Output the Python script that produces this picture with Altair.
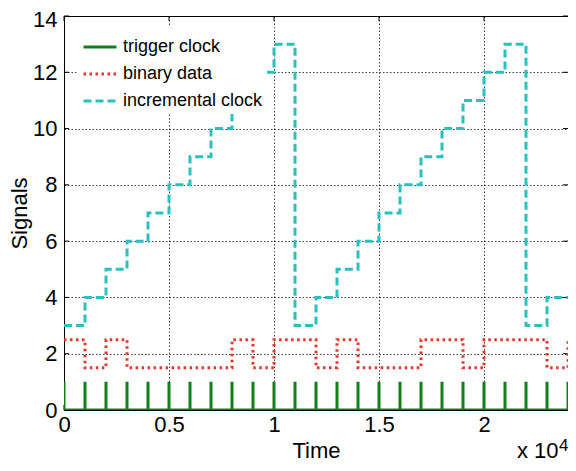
import altair as alt
import pandas as pd

# ---- data ----
sample_times = [0, 1000, 2000, 3000, 4000, 5000, 6000, 7000, 8000, 9000, 10000,
                11000, 12000, 13000, 14000, 15000, 16000, 17000, 18000, 19000,
                20000, 21000, 22000, 23000, 24000]
trigger_high = [1] * 25
binary_data = [2.5, 1.5, 2.5, 1.5, 1.5, 1.5, 1.5, 1.5, 2.5, 1.5, 2.5, 2.5, 1.5,
               2.5, 1.5, 1.5, 1.5, 2.5, 2.5, 1.5, 2.5, 2.5, 2.5, 1.5, 2.5]
incremental_clock = [3, 4, 5, 6, 7, 8, 9, 10, 11, 12, 13, 3, 4, 5, 6, 7, 8, 9,
                     10, 11, 12, 13, 3, 4, 4]
series_names = ["trigger clock", "binary data", "incremental clock"]
series_colors = ["#12801a", "#e8352b", "#2bbfc0"]
series_dashes = [[1, 0], [2.5, 3.5], [8, 4]]
x_ticks = [0, 5000, 10000, 15000, 20000]
y_ticks = [0, 2, 4, 6, 8, 10, 12, 14]

W, H = 504, 394
FONT = "Liberation Sans"

rows = []
idx = 0
for t, hi in zip(sample_times, trigger_high):
    rows.append({"t": t, "v": hi, "s": series_names[0], "o": idx}); idx += 1
    rows.append({"t": t, "v": 0, "s": series_names[0], "o": idx}); idx += 1
for t, v in zip(sample_times, binary_data):
    rows.append({"t": t, "v": v, "s": series_names[1], "o": idx}); idx += 1
for t, v in zip(sample_times, incremental_clock):
    rows.append({"t": t, "v": v, "s": series_names[2], "o": idx}); idx += 1
df = pd.DataFrame(rows)

xs = alt.Scale(domain=[0, 24000], nice=False, zero=False)
ys = alt.Scale(domain=[0, 14], nice=False)

lines = alt.Chart(df).mark_line(interpolate="step-after", strokeWidth=3,
                                strokeCap="butt", clip=True).encode(
    x=alt.X("t:Q", scale=xs, title="Time",
            axis=alt.Axis(values=x_ticks, labelExpr="toString(datum.value / 10000)",
                          grid=True, ticks=False, domain=False, labelPadding=4,
                          titlePadding=5, labelFlush=False)),
    y=alt.Y("v:Q", scale=ys, title="Signals",
            axis=alt.Axis(values=y_ticks, grid=True, ticks=False, domain=False,
                          labelPadding=7, titlePadding=1,
                          labelOffset={"condition": {"test": "datum.value == 14", "value": 3},
                                       "value": 0})),
    color=alt.Color("s:N", scale=alt.Scale(domain=series_names, range=series_colors),
                    legend=alt.Legend(title=None, orient="none", legendX=14, legendY=9,
                                      fillColor="white", padding=4, symbolType="stroke",
                                      symbolSize=1089, symbolStrokeWidth=3,
                                      labelFontSize=18, labelFont=FONT, labelColor="black",
                                      labelOffset=5, rowPadding=-3, labelLimit=300)),
    strokeDash=alt.StrokeDash("s:N", scale=alt.Scale(domain=series_names, range=series_dashes),
                              legend=None),
    order=alt.Order("o:Q"),
)

xt = pd.DataFrame({"t": x_ticks})
yt = pd.DataFrame({"v": y_ticks})
tick_b = alt.Chart(xt).mark_rule(color="black").encode(
    x=alt.X("t:Q", scale=xs), y=alt.value(H), y2=alt.value(H - 5))
tick_t = alt.Chart(xt).mark_rule(color="black").encode(
    x=alt.X("t:Q", scale=xs), y=alt.value(0), y2=alt.value(5))
tick_l = alt.Chart(yt).mark_rule(color="black").encode(
    y=alt.Y("v:Q", scale=ys), x=alt.value(0), x2=alt.value(5))
tick_r = alt.Chart(yt).mark_rule(color="black").encode(
    y=alt.Y("v:Q", scale=ys), x=alt.value(W - 5), x2=alt.value(W))

exp_txt = alt.Chart(pd.DataFrame({"a": [0]})).mark_text(
    align="left", baseline="alphabetic", fontSize=22, font=FONT, color="black").encode(
    x=alt.value(W - 51), y=alt.value(H + 48), text=alt.value("x 10"))
exp_sup = alt.Chart(pd.DataFrame({"a": [0]})).mark_text(
    align="left", baseline="alphabetic", fontSize=17, font=FONT, color="black").encode(
    x=alt.value(W - 9), y=alt.value(H + 41), text=alt.value("4"))

chart = alt.layer(tick_b, tick_t, tick_l, tick_r, lines, exp_txt, exp_sup).properties(
    width=W, height=H,
    autosize=alt.AutoSizeParams(type="none"),
    padding={"left": 56, "top": 8, "right": 0, "bottom": 53},
).configure_view(stroke="black", strokeWidth=1).configure_axis(
    labelFont=FONT, titleFont=FONT, labelFontSize=22, titleFontSize=22,
    labelColor="black", titleColor="black", titleFontWeight="normal",
    gridColor="#000000", gridDash=[1.5, 2], gridWidth=1, gridOpacity=0.75,
)

chart.save("out.html", embed_options={"renderer": "svg", "actions": False})
